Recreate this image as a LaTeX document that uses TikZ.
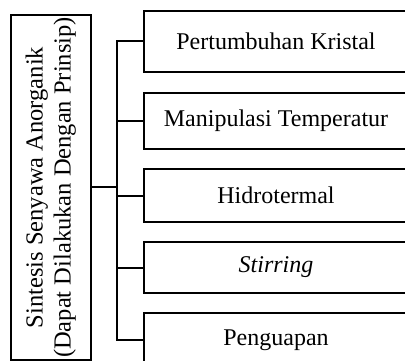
\documentclass[tikz,border=0pt]{standalone}
\usepackage{fontspec}
\setmainfont{Liberation Serif}
\begin{document}
\begin{tikzpicture}[x=1pt,y=-1pt,line width=2pt,
  item/.style={draw,rectangle,inner sep=0pt,minimum width=264pt,anchor=north west,
    font=\fontsize{24}{27}\selectfont},
  mainbox/.style={draw,rectangle,inner sep=0pt,minimum width=80pt,minimum height=345pt,
    font=\fontsize{24.5}{28}\selectfont},
  link/.style={line width=2pt}]
\path[use as bounding box,clip] (0,0) rectangle (405,361);
\node[mainbox] (L) at (51,187.5) {\rotatebox{90}{\begin{tabular}{@{}c@{}}Sintesis Senyawa Anorganik\\(Dapat Dilakukan Dengan Prinsip)\end{tabular}}};
\node[item,minimum height=61pt] (b1) at (143,10) {Pertumbuhan Kristal};
\node[item,minimum height=56pt] (b2) at (143,92) {Manipulasi Temperatur};
\node[item,minimum height=53pt] (b3) at (143,168) {Hidrotermal};
\node[item,minimum height=51pt] (b4) at (143,241) {\textit{Stirring}};
\node[item,minimum height=54pt] (b5) at (143,312) {Penguapan};
\coordinate (t1) at (117,0);
\draw[link] (b1.west) -- (b1.west -| t1) -- (b5.west -| t1) -- (b5.west);
\draw[link] (b2.west) -- (b2.west -| t1);
\draw[link] (b3.west) -- (b3.west -| t1);
\draw[link] (b4.west) -- (b4.west -| t1);
\draw[link] (L.east) -- (L.east -| t1);
\end{tikzpicture}
\end{document}
